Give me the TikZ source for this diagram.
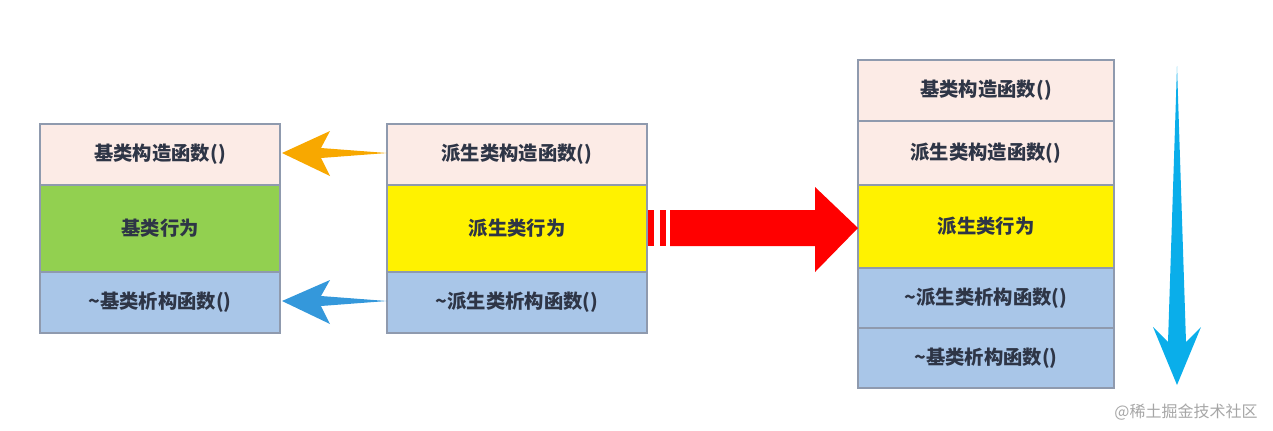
\documentclass[tikz,border=0pt]{standalone}
\usepackage{fontspec}
\setmainfont{Noto Sans CJK SC}
\begin{document}
\begin{tikzpicture}[x=0.75pt,y=-0.75pt,
  cell/.style={draw=bordc,line width=1.5pt,font=\bfseries\fontsize{14.5}{16}\selectfont,text=txtc},
]
\definecolor{bordc}{HTML}{8F9AAE}
\definecolor{txtc}{HTML}{2E3546}
\definecolor{pinkc}{HTML}{FCEBE6}
\definecolor{greenc}{HTML}{92D050}
\definecolor{bluec}{HTML}{A9C6E8}
\definecolor{orangec}{HTML}{F8A800}
\definecolor{arrblue}{HTML}{3498DB}
\definecolor{downc}{HTML}{0AAEEA}
\useasboundingbox (0,0) rectangle (1273,430);
\newcommand{\cellbox}[6]{\draw[cell,fill=#1] (#2,#3) rectangle (#4,#5) node[midway] (#6) {};}
% left
\draw[cell,fill=pinkc] (40,124) rectangle (280,185) node[midway] (l1) {基类构造函数()};
\draw[cell,fill=greenc] (40,185) rectangle (280,272) node[midway] (l2) {基类行为};
\draw[cell,fill=bluec] (40,272) rectangle (280,333) node[midway] (l3) {\textasciitilde 基类析构函数()};
% middle
\draw[cell,fill=pinkc] (387,124) rectangle (647,185) node[midway] (m1) {派生类构造函数()};
\draw[cell,fill=yellow] (387,185) rectangle (647,272) node[midway] (m2) {派生类行为};
\draw[cell,fill=bluec] (387,272) rectangle (647,333) node[midway] (m3) {\textasciitilde 派生类析构函数()};
% right
\draw[cell,fill=pinkc] (858,60) rectangle (1114,121) node[midway] (r1) {基类构造函数()};
\draw[cell,fill=pinkc] (858,121) rectangle (1114,185) node[midway] (r2) {派生类构造函数()};
\draw[cell,fill=yellow] (858,185) rectangle (1114,268) node[midway] (r3) {派生类行为};
\draw[cell,fill=bluec] (858,268) rectangle (1114,328) node[midway] (r4) {\textasciitilde 派生类析构函数()};
\draw[cell,fill=bluec] (858,328) rectangle (1114,388) node[midway] (r5) {\textasciitilde 基类析构函数()};
% arrows
\fill[orangec] (282,153) -- (330,131) -- (321,148) -- (387,153) -- (321,158) -- (330,176) -- cycle;
\fill[arrblue] (282,301) -- (330,280) -- (321,296) -- (387,301) -- (321,306) -- (330,324) -- cycle;
\fill[red] (648,210) rectangle (654,246);
\fill[red] (660,210) rectangle (666,246);
\fill[red] (670,210) -- (815,210) -- (815,187) -- (858,228) -- (815,272) -- (815,246) -- (670,246) -- cycle;
\fill[downc] (1177,66) -- (1186,342) -- (1201,327) -- (1177,385) -- (1153,327) -- (1168,342) -- cycle;
\node[text=gray!70,font=\fontsize{12}{14}\selectfont] (wm) at (1186,412) {@稀土掘金技术社区};
\end{tikzpicture}
\end{document}
